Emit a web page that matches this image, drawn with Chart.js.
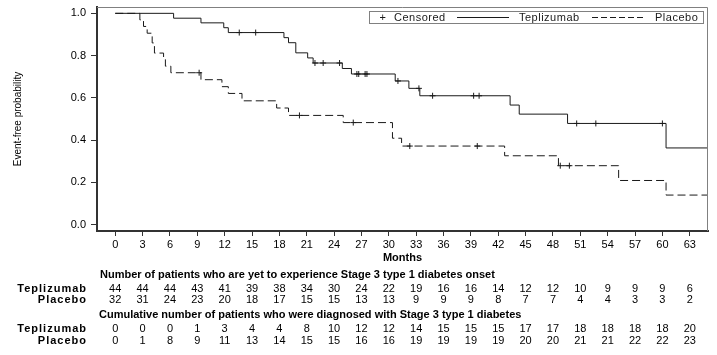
<!DOCTYPE html>
<html><head><meta charset="utf-8">
<script src="https://cdn.jsdelivr.net/npm/chart.js@4.4.0/dist/chart.umd.min.js"></script>
<style>html,body{margin:0;padding:0;background:#fff;}canvas{display:block;}</style>
</head><body>
<canvas id="c" width="717" height="355"></canvas>
<script>
// ---- data ----
const monthTicks = [0,3,6,9,12,15,18,21,24,27,30,33,36,39,42,45,48,51,54,57,60,63];
const probTicks = [0,0.2,0.4,0.6,0.8,1.0];

const tepTimes = [0,6.4,9.4,11.9,12.4,18.5,19.0,19.8,21.1,21.7,24.9,25.9,30.7,32.2,33.4,43.3,44.3,49.6,60.4,65];
const tepSurv  = [1,0.977,0.955,0.932,0.909,0.885,0.861,0.813,0.789,0.765,0.739,0.713,0.680,0.645,0.610,0.566,0.523,0.479,0.363,0.363];
const tepCensored = [13.6,15.4,21.9,22.8,24.6,26.5,26.7,27.4,27.6,31.0,33.3,34.8,39.3,39.9,50.6,52.7,60.0];

const plaTimes = [0,2.7,3.1,3.5,4.05,4.3,5.3,5.5,6.1,9.4,11.7,12.4,13.9,17.7,19.0,25.0,30.4,31.4,42.7,48.6,55.2,60.4,65];
const plaSurv  = [1,0.969,0.938,0.906,0.860,0.812,0.781,0.750,0.719,0.686,0.653,0.621,0.586,0.552,0.517,0.483,0.409,0.372,0.326,0.279,0.209,0.140,0.140];
const plaCensored = [9.2,20.2,26.1,32.3,39.7,48.8,49.8];

const tepAtRisk = [44,44,44,43,41,39,38,34,30,24,22,19,16,16,14,12,12,10,9,9,9,6];
const plaAtRisk = [32,31,24,23,20,18,17,15,15,13,13,9,9,9,8,7,7,4,4,3,3,2];
const tepCumEvents = [0,0,0,1,3,4,4,8,10,12,12,14,15,15,15,17,17,18,18,18,18,20];
const plaCumEvents = [0,1,8,9,11,13,14,15,15,16,16,19,19,19,19,20,20,21,21,22,22,23];

const groupNames = ['Teplizumab','Placebo'];
const tableTitles = ['Number of patients who are yet to experience Stage 3 type 1 diabetes onset',
                     'Cumulative number of patients who were diagnosed with Stage 3 type 1 diabetes'];

// ---- helpers ----
function survAt(times, surv, t){ let v = surv[0]; for (let i=0;i<times.length;i++){ if (times[i] <= t) v = surv[i]; } return v; }
const toPts = (xs, ys) => xs.map((x,i)=>({x:x, y:ys[i]}));
const censPts = (cs, times, surv) => cs.map(t=>({x:t, y:survAt(times,surv,t)}));

const FONT = '"Liberation Sans", Arial, sans-serif';
const INK = '#1a1a1a';

const framePlugin = {
  id:'frame',
  afterDatasetsDraw(chart){
    const {ctx, chartArea:a} = chart;
    ctx.save();
    ctx.strokeStyle = '#808080'; ctx.lineWidth = 1;
    ctx.beginPath();
    ctx.moveTo(a.left, a.top+0.5); ctx.lineTo(a.right-0.5, a.top+0.5); ctx.lineTo(a.right-0.5, a.bottom);
    ctx.stroke();
    ctx.restore();
  }
};

const legendPlugin = {
  id:'kmLegend',
  afterDraw(chart){
    const ctx = chart.ctx;
    ctx.save();
    ctx.strokeStyle = '#808080'; ctx.lineWidth = 1;
    ctx.strokeRect(369.5, 11.5, 334, 12);
    ctx.fillStyle = INK;
    ctx.font = '11px ' + FONT;
    ctx.textBaseline = 'middle';
    try { ctx.letterSpacing = '0.5px'; } catch(e){}
    ctx.textAlign = 'center';
    ctx.fillText('+', 383, 17.5);
    ctx.textAlign = 'left';
    ctx.fillText('Censored', 394, 17.5);
    ctx.fillText(groupNames[0], 519, 17.5);
    ctx.fillText(groupNames[1], 655, 17.5);
    ctx.strokeStyle = INK;
    ctx.beginPath(); ctx.moveTo(457, 17.5); ctx.lineTo(509, 17.5); ctx.stroke();
    ctx.setLineDash([6,3]);
    ctx.beginPath(); ctx.moveTo(592, 17.5); ctx.lineTo(644, 17.5); ctx.stroke();
    ctx.restore();
  }
};

const tablePlugin = {
  id:'riskTable',
  afterDraw(chart){
    const ctx = chart.ctx;
    const xs = chart.scales.x;
    ctx.save();
    ctx.fillStyle = '#000';
    ctx.textBaseline = 'middle';
    const rows = [
      {y:288.5, label:groupNames[0], vals:tepAtRisk},
      {y:299.5, label:groupNames[1], vals:plaAtRisk},
      {y:329, label:groupNames[0], vals:tepCumEvents},
      {y:341, label:groupNames[1], vals:plaCumEvents}
    ];
    ctx.font = 'bold 11px ' + FONT;
    ctx.textAlign = 'left';
    ctx.fillText(tableTitles[0], 100, 275);
    ctx.fillText(tableTitles[1], 99, 315);
    rows.forEach(r=>{
      ctx.font = 'bold 11px ' + FONT;
      try { ctx.letterSpacing = '1px'; } catch(e){}
      ctx.textAlign = 'right';
      ctx.fillText(r.label, 87, r.y);
      try { ctx.letterSpacing = '0px'; } catch(e){}
      ctx.font = '11px ' + FONT;
      ctx.textAlign = 'center';
      r.vals.forEach((v,i)=>{
        ctx.fillText(String(v), xs.getPixelForValue(monthTicks[i]), r.y);
      });
    });
    ctx.restore();
  }
};

const zeroPad = s => { s.paddingTop = 0; s.paddingBottom = 0; s.paddingLeft = 0; s.paddingRight = 0; };

new Chart(document.getElementById('c'), {
  type:'line',
  data:{
    datasets:[
      {label:groupNames[0], data:toPts(tepTimes,tepSurv), stepped:true, borderColor:INK, borderWidth:1, pointRadius:0, fill:false},
      {label:groupNames[1], data:toPts(plaTimes,plaSurv), stepped:true, borderColor:INK, borderWidth:1, borderDash:[8,4], pointRadius:0, fill:false},
      {type:'scatter', label:'Censored T', data:censPts(tepCensored,tepTimes,tepSurv), pointStyle:'cross', pointRadius:3, borderColor:INK, pointBorderWidth:1, showLine:false},
      {type:'scatter', label:'Censored P', data:censPts(plaCensored,plaTimes,plaSurv), pointStyle:'cross', pointRadius:3, borderColor:INK, pointBorderWidth:1, showLine:false}
    ]
  },
  options:{
    responsive:false, animation:false, devicePixelRatio:1,
    layout:{padding:{top:7, right:9, bottom:86, left:8}},
    plugins:{legend:{display:false}, tooltip:{enabled:false}},
    scales:{
      x:{
        type:'linear', min:-2, max:65,
        afterBuildTicks: s => { s.ticks = monthTicks.map(v=>({value:v})); },
        afterFit: s => { s.height = 38; zeroPad(s); },
        ticks:{color:'#000', font:{family:FONT, size:11}, padding:2, maxRotation:0, autoSkip:false, callback:v=>String(v)},
        grid:{drawOnChartArea:false, drawTicks:true, tickLength:5, color:'#333', tickWidth:1},
        border:{display:true, color:'#333', width:2},
        title:{display:true, text:'Months', color:'#000', font:{family:FONT, size:11, weight:'bold'}, padding:{top:4,bottom:4}}
      },
      y:{
        min:-0.03, max:1.03,
        afterBuildTicks: s => { s.ticks = probTicks.map(v=>({value:v})); },
        afterFit: s => { s.width = 89; zeroPad(s); },
        ticks:{color:'#000', font:{family:FONT, size:11}, padding:5, callback:v=>Number(v).toFixed(1)},
        grid:{drawOnChartArea:false, drawTicks:true, tickLength:6, color:'#333', tickWidth:1},
        border:{display:true, color:'#333', width:2},
        title:{display:true, text:'Event-free probability', color:'#000', font:{family:FONT, size:10}, padding:{top:4,bottom:2}}
      }
    }
  },
  plugins:[framePlugin, legendPlugin, tablePlugin]
});
</script>
</body></html>
